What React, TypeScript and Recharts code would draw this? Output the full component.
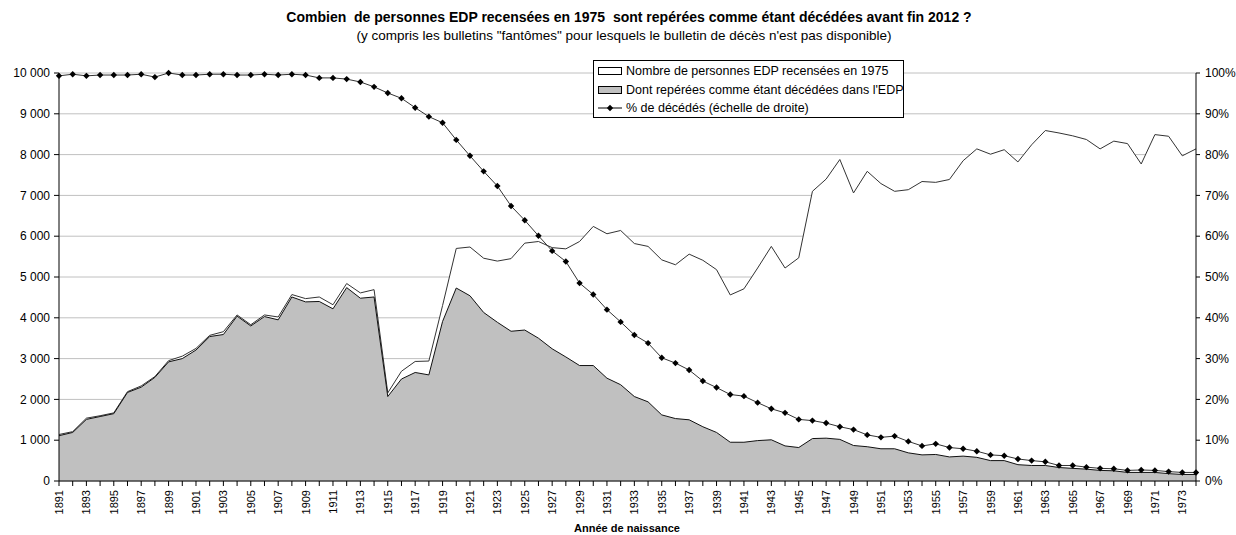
import React from "react";
import {
  ComposedChart,
  Area,
  Line,
  XAxis,
  YAxis,
  CartesianGrid,
} from "recharts";

// Années de naissance 1891 → 1974
const YEARS: number[] = Array.from({ length: 84 }, (_, i) => 1891 + i);

// Nombre de personnes EDP recensées en 1975
const TOTAL = [
  1140, 1210, 1540, 1600, 1670, 2190, 2330, 2560, 2950, 3060,
  3250, 3570, 3660, 4070, 3830, 4070, 4020, 4570, 4470, 4510,
  4320, 4840, 4610, 4690, 2160, 2690, 2930, 2940, 4300, 5700,
  5735, 5460, 5390, 5450, 5830, 5870, 5720, 5690, 5870, 6240,
  6060, 6140, 5820, 5750, 5420, 5300, 5560, 5410, 5180, 4560,
  4710, 5220, 5750, 5220, 5470, 7100, 7400, 7880, 7060, 7590,
  7290, 7100, 7140, 7340, 7320, 7390, 7850, 8140, 8010, 8120,
  7820, 8240, 8590, 8530, 8460, 8370, 8140, 8330, 8270, 7770,
  8490, 8450, 7970, 8140,
];

// Dont repérées comme étant décédées dans l'EDP
const DECEASED = [
  1110, 1190, 1510, 1580, 1650, 2170, 2300, 2540, 2920, 3000,
  3210, 3540, 3590, 4040, 3800, 4030, 3950, 4510, 4390, 4400,
  4220, 4740, 4480, 4510, 2070, 2500, 2660, 2600, 3910, 4730,
  4540, 4130, 3890, 3670, 3700, 3500, 3240, 3040, 2830, 2830,
  2520, 2360, 2070, 1940, 1620, 1530, 1500, 1330, 1190, 950,
  950, 990, 1010, 860, 820, 1040, 1050, 1020, 870, 840,
  790, 790, 690, 640, 650, 590, 610, 580, 500, 500,
  400, 380, 380, 330, 310, 290, 260, 250, 210, 210,
  210, 180, 160, 160,
];

// % de décédés (échelle de droite)
const PCT = [
  99.3, 99.7, 99.3, 99.5, 99.5, 99.5, 99.7, 99.0, 100, 99.5,
  99.5, 99.7, 99.7, 99.5, 99.5, 99.7, 99.5, 99.7, 99.5, 98.8,
  98.8, 98.5, 97.8, 96.6, 95.1, 93.8, 91.5, 89.3, 87.8, 83.6,
  79.7, 75.9, 72.3, 67.4, 63.9, 60.1, 56.4, 53.8, 48.5, 45.7,
  42.0, 39.0, 35.8, 33.8, 30.2, 28.9, 27.2, 24.5, 22.9, 21.2,
  20.8, 19.2, 17.7, 16.7, 15.1, 14.8, 14.2, 13.3, 12.6, 11.3,
  10.7, 11.0, 9.7, 8.6, 9.1, 8.2, 7.9, 7.3, 6.4, 6.2,
  5.4, 5.0, 4.7, 3.8, 3.8, 3.4, 3.1, 3.0, 2.6, 2.7,
  2.6, 2.3, 2.1, 2.1,
];

const LEFT_TICKS = [0, 1000, 2000, 3000, 4000, 5000, 6000, 7000, 8000, 9000, 10000];
const RIGHT_TICKS = [0, 10, 20, 30, 40, 50, 60, 70, 80, 90, 100];

const FONT = '"Liberation Sans", Arial, sans-serif';

const data = YEARS.map((year, i) => ({
  year,
  total: TOTAL[i],
  deceased: DECEASED[i],
  pct: PCT[i],
}));

// 10000 -> "10 000"
function fmtThousands(v: number) {
  return String(v).replace(/\B(?=(\d{3})+(?!\d))/g, " ");
}

// labels verticaux, une année sur deux
function YearTick({ x, y, payload }: any) {
  const show = (payload.value - 1891) % 2 === 0;
  if (!show) return null;
  return (
    <g transform={`translate(${x},${y})`}>
      <text
        transform="rotate(-90)"
        x={-1}
        y={4}
        textAnchor="end"
        fontSize={11}
        fontFamily={FONT}
        fill="#000"
      >
        {payload.value}
      </text>
    </g>
  );
}

function diamond(props: any) {
  const { cx, cy, index } = props;
  const r = 3.2;
  return (
    <path
      key={`d-${index}`}
      d={`M${cx},${cy - r}L${cx + r},${cy}L${cx},${cy + r}L${cx - r},${cy}Z`}
      fill="#000"
    />
  );
}

function LegendBox() {
  const row: React.CSSProperties = {
    display: "flex",
    alignItems: "center",
    height: 18.5,
    whiteSpace: "nowrap",
  };
  return (
    <div
      style={{
        position: "absolute",
        left: 593,
        top: 60,
        width: 311,
        height: 58,
        border: "1px solid #000",
        background: "#fff",
        fontSize: 12.5,
        padding: "1px 0 0 4px",
        boxSizing: "border-box",
        fontFamily: FONT,
        color: "#000",
      }}
    >
      <div style={row}>
        <span
          style={{ width: 22, height: 6, border: "1px solid #000", background: "#fff", marginRight: 4, flexShrink: 0 }}
        />
        Nombre de personnes EDP recensées en 1975
      </div>
      <div style={row}>
        <span
          style={{ width: 22, height: 6, border: "1px solid #000", background: "#c0c0c0", marginRight: 4, flexShrink: 0 }}
        />
        Dont repérées comme étant décédées dans l'EDP
      </div>
      <div style={row}>
        <svg width={24} height={10} style={{ marginRight: 4, flexShrink: 0 }}>
          <line x1={0} y1={5} x2={24} y2={5} stroke="#000" strokeWidth={1} />
          <path d="M12,1.8L15.2,5L12,8.2L8.8,5Z" fill="#000" />
        </svg>
        % de décédés (échelle de droite)
      </div>
    </div>
  );
}

export default function App() {
  return (
    <div
      style={{
        position: "fixed",
        left: 0,
        top: 0,
        width: 1236,
        height: 535,
        background: "#fff",
        fontFamily: FONT,
      }}
    >
      <div
        style={{
          position: "absolute",
          left: 629,
          top: 9,
          transform: "translateX(-50%)",
          whiteSpace: "pre",
          fontWeight: "bold",
          fontSize: 14,
          color: "#000",
        }}
      >
        {"Combien  de personnes EDP recensées en 1975  sont repérées comme étant décédées avant fin 2012 ?"}
      </div>
      <div
        style={{
          position: "absolute",
          left: 624,
          top: 28,
          transform: "translateX(-50%)",
          whiteSpace: "pre",
          fontSize: 13.5,
          color: "#000",
        }}
      >
        {'(y compris les bulletins "fantômes" pour lesquels le bulletin de décès n\'est pas disponible)'}
      </div>

      <ComposedChart
        width={1236}
        height={535}
        data={data}
        margin={{ top: 73, right: 0, bottom: 0, left: 0 }}
      >
        <CartesianGrid yAxisId="left" vertical={false} stroke="#c0c0c0" />
        <XAxis
          dataKey="year"
          scale="point"
          padding={{ left: 0, right: 0 }}
          interval={0}
          tick={<YearTick />}
          tickSize={5}
          tickMargin={3}
          height={54}
          stroke="#000"
        />
        <YAxis
          yAxisId="left"
          domain={[0, 10000]}
          ticks={LEFT_TICKS}
          width={59}
          tickSize={5}
          tickMargin={4}
          tickFormatter={fmtThousands}
          tick={{ fontSize: 12, fill: "#000", fontFamily: FONT }}
          stroke="#000"
        />
        <YAxis
          yAxisId="right"
          orientation="right"
          domain={[0, 100]}
          ticks={RIGHT_TICKS}
          width={40}
          tickSize={4}
          tickMargin={5}
          tickFormatter={(v: number) => `${v}%`}
          tick={{ fontSize: 12, fill: "#000", fontFamily: FONT, textAnchor: "start" }}
          stroke="#000"
        />
        <Area
          yAxisId="left"
          dataKey="total"
          type="linear"
          fill="#ffffff"
          fillOpacity={1}
          stroke="#333"
          strokeWidth={1}
          isAnimationActive={false}
        />
        <Area
          yAxisId="left"
          dataKey="deceased"
          type="linear"
          fill="#c0c0c0"
          fillOpacity={1}
          stroke="#111"
          strokeWidth={1}
          isAnimationActive={false}
        />
        <Line
          yAxisId="right"
          dataKey="pct"
          type="linear"
          stroke="#333"
          strokeWidth={1}
          dot={diamond}
          isAnimationActive={false}
        />
      </ComposedChart>

      <LegendBox />

      <div
        style={{
          position: "absolute",
          left: 627,
          top: 522,
          transform: "translateX(-50%)",
          fontWeight: "bold",
          fontSize: 11,
          lineHeight: "13px",
          whiteSpace: "pre",
          color: "#000",
          zIndex: 5,
        }}
      >
        Année de naissance
      </div>
    </div>
  );
}
